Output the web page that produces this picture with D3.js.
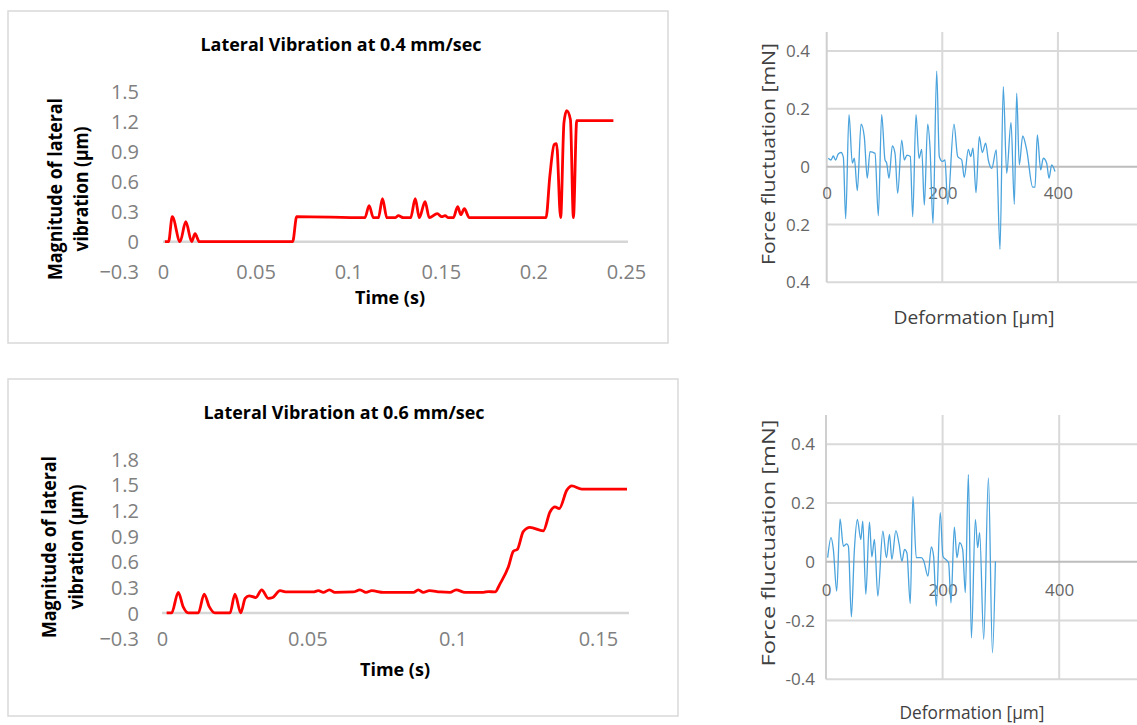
<!DOCTYPE html>
<html>
<head>
<meta charset="utf-8">
<script src="https://cdn.jsdelivr.net/npm/d3@7"></script>
<style>
  body { margin: 0; background: #fff; }
  svg { display: block; }
</style>
</head>
<body>
<svg id="chart" width="1137" height="725"></svg>
<script>
// ---- data ----
// lateral vibration, 0.4 mm/sec: [time (s), magnitude (µm)]
var slowVibration = [
  [0.001, 0], [0.003, 0], [0.005, 0.25], [0.0092, 0], [0.0123, 0.20], [0.0155, 0],
  [0.0173, 0.08], [0.0196, 0], [0.070, 0], [0.0722, 0.25], [0.109, 0.24],
  [0.1113, 0.36], [0.1136, 0.24], [0.1163, 0.24], [0.1185, 0.43], [0.1209, 0.24],
  [0.1253, 0.24], [0.1271, 0.26], [0.1298, 0.24], [0.1337, 0.24], [0.1362, 0.43],
  [0.1384, 0.24], [0.1415, 0.40], [0.1438, 0.24], [0.1481, 0.28], [0.1505, 0.25],
  [0.1523, 0.26], [0.1541, 0.24], [0.1568, 0.24], [0.1591, 0.35], [0.1608, 0.27],
  [0.1627, 0.33], [0.1654, 0.24], [0.2068, 0.24], [0.2089, 0.66], [0.2112, 0.97],
  [0.2125, 0.98], [0.2147, 0.24], [0.2165, 1.19], [0.2180, 1.31], [0.2200, 1.22],
  [0.2216, 0.24], [0.2234, 1.21], [0.2252, 1.21], [0.2432, 1.21]
];
// lateral vibration, 0.6 mm/sec
var fastVibration = [
  [0.0016, 0], [0.0033, 0], [0.0056, 0.24], [0.0073, 0.07], [0.009, 0], [0.0114, 0],
  [0.0125, 0], [0.0145, 0.22], [0.0163, 0.07], [0.0182, 0], [0.0223, 0], [0.0234, 0],
  [0.0251, 0.22], [0.0271, 0], [0.0286, 0.17], [0.030, 0.20], [0.0323, 0.18],
  [0.0343, 0.27], [0.0366, 0.17], [0.0381, 0.18], [0.0406, 0.26], [0.0429, 0.245],
  [0.052, 0.245], [0.0538, 0.26], [0.0555, 0.24], [0.0576, 0.27], [0.0595, 0.24],
  [0.0658, 0.245], [0.0681, 0.27], [0.0702, 0.24], [0.0722, 0.26], [0.0762, 0.24],
  [0.0865, 0.24], [0.0882, 0.27], [0.0899, 0.24], [0.092, 0.26], [0.0957, 0.245],
  [0.0991, 0.24], [0.1012, 0.27], [0.1043, 0.24], [0.1106, 0.24], [0.1123, 0.25],
  [0.1146, 0.245], [0.1163, 0.34], [0.1192, 0.54], [0.1209, 0.72], [0.1223, 0.745],
  [0.1243, 0.95], [0.1266, 1.0], [0.1312, 0.96], [0.1335, 1.18], [0.1352, 1.24],
  [0.1367, 1.22], [0.1393, 1.435], [0.141, 1.485], [0.1444, 1.447], [0.16, 1.447]
];
// force fluctuation, upper plot: [deformation (µm), force (mN)]
var forceUpper = [
  [2.8, 0.029], [7.4, 0.023], [11.4, 0.037], [15.4, 0.023], [20, 0.044], [24.8, 0.049],
  [28.8, 0.033], [32.8, -0.18], [38.6, 0.18], [44.3, 0.012], [47.8, 0.029], [53, -0.083],
  [59.4, 0.147], [65, 0.104], [70.2, -0.04], [74.9, 0.052], [83.6, 0.046], [89.3, -0.17],
  [95.1, 0.18], [100.9, 0.023], [103.8, 0.012], [107.8, -0.04], [113.6, 0.072],
  [118.2, 0.046], [122.8, -0.092], [129.8, 0.092], [134.3, 0.023], [138.9, 0.04],
  [144.6, 0.035], [148.8, -0.173], [154.5, 0.18], [159.7, 0.029], [164.4, 0.06],
  [168.9, -0.133], [174.7, 0.147], [178.7, 0.067], [183.9, -0.196], [190.3, 0.33],
  [194.8, 0.035], [200, 0.018], [204.7, 0.023], [209.3, -0.13], [220.2, 0.147],
  [226.6, 0.035], [233.6, 0.023], [238, -0.037], [245, 0.06], [249.1, 0.035],
  [253.1, 0.064], [258.3, -0.09], [264, 0.104], [269.2, 0.049], [275, 0.081],
  [279.6, 0.023], [285.5, -0.006], [293.4, 0.058], [299.8, -0.286], [305.5, 0.277],
  [311.4, -0.023], [318.9, 0.153], [324.6, -0.13], [328.7, 0.254], [333.2, 0.006],
  [339.1, 0.106], [346, 0.058], [356.4, -0.071], [360.4, -0.071], [364.4, 0.11],
  [370.2, -0.011], [374.7, 0.029], [380.6, 0.012], [384.6, -0.04], [389.3, 0.006],
  [395, -0.017]
];
// force fluctuation, lower plot
var forceLower = [
  [2.9, 0.014], [8.6, 0.082], [12.6, 0.042], [18.4, -0.1], [24.1, 0.146], [29.8, 0.053],
  [35.6, 0.061], [38.4, 0.053], [43.5, -0.187], [48.7, 0.042], [53.8, 0.144],
  [59.7, 0.076], [63.1, 0.138], [68.3, -0.111], [74.5, 0.135], [78.6, 0.017],
  [83.1, 0.076], [88.9, -0.117], [97.5, 0.104], [103.7, 0.014], [108.9, 0.093],
  [113, 0.008], [119.8, 0.106], [125.5, 0.059], [130.2, 0.002], [134.7, 0.042],
  [138.8, 0.03], [144.5, -0.142], [149.1, 0.223], [154.8, 0.014], [163.4, 0.014],
  [167.3, 0.005], [174.9, -0.049], [180.6, 0.051], [184.5, 0.02], [189.2, -0.151],
  [196, 0.167], [200.6, 0.019], [206.4, 0.006], [210.3, -0.003], [214.4, -0.14],
  [220.1, 0.118], [224.7, 0.014], [229.2, 0.065], [234.4, 0.042], [239, -0.105],
  [244.2, 0.297], [249.4, -0.259], [256.2, 0.144], [260.2, 0.048], [263.6, 0.099],
  [270.5, -0.264], [278.6, 0.286], [285.5, -0.31], [290.6, 0.002]
];

// ticks and labels
var slowTimeTicks = [0, 0.05, 0.1, 0.15, 0.2, 0.25];
var fastTimeTicks = [0, 0.05, 0.1, 0.15];
var slowAmpTicks = [-0.3, 0, 0.3, 0.6, 0.9, 1.2, 1.5];
var fastAmpTicks = [-0.3, 0, 0.3, 0.6, 0.9, 1.2, 1.5, 1.8];
var deformTicks = [0, 200, 400, 600];
var forceTicks = [0.4, 0.2, 0, -0.2, -0.4];
var forceUpperLabels = ["0.4", "0.2", "0", "0.2", "0.4"];
var forceLowerLabels = ["0.4", "0.2", "0", "-0.2", "-0.4"];

var svg = d3.select("#chart");

function drawVibration(data, opts) {
  var g = svg.append("g");
  // chart frame
  g.append("rect")
    .attr("x", opts.box[0]).attr("y", opts.box[1])
    .attr("width", opts.box[2]).attr("height", opts.box[3])
    .attr("fill", "#fff")
    .attr("stroke", "#d9d9d9")
    .attr("stroke-width", 1.5);

  var x = d3.scaleLinear().domain(opts.xDomain).range(opts.xRange);
  var y = d3.scaleLinear().domain(opts.yDomain).range(opts.yRange);

  g.append("text")
    .attr("x", opts.titlePos[0]).attr("y", opts.titlePos[1])
    .attr("text-anchor", "middle")
    .attr("textLength", opts.titleLen)
    .attr("lengthAdjust", "spacingAndGlyphs")
    .style("font", "bold 17px 'Open Sans', sans-serif")
    .text(opts.title);

  // y axis labels
  var yAxis = d3.axisLeft(y).tickValues(opts.yTicks).tickSize(0).tickPadding(0)
    .tickFormat(d3.format("~g"));
  var ya = g.append("g").attr("transform", "translate(" + opts.yLabelX + ",0)").call(yAxis);
  ya.select(".domain").remove();
  ya.selectAll("text")
    .attr("dy", "0.36em")
    .style("font", "20px 'Open Sans', sans-serif")
    .style("fill", "#808080");

  // x axis labels sit level with the lowest y label
  var xAxis = d3.axisBottom(x).tickValues(opts.xTicks).tickSize(0).tickPadding(0)
    .tickFormat(d3.format("~g"));
  var xa = g.append("g").attr("transform", "translate(0," + y(opts.yDomain[0]) + ")").call(xAxis);
  xa.select(".domain").remove();
  xa.selectAll("text")
    .attr("dy", "0.36em")
    .style("font", "20px 'Open Sans', sans-serif")
    .style("fill", "#808080");

  // zero baseline
  g.append("line")
    .attr("x1", x(0)).attr("x2", x(opts.xDomain[1]) + 2)
    .attr("y1", y(0)).attr("y2", y(0))
    .attr("stroke", "#d6d6d6")
    .attr("stroke-width", 2.5);

  var line = d3.line()
    .x(function(d) { return x(d[0]); })
    .y(function(d) { return y(d[1]); })
    .curve(d3.curveMonotoneX);
  g.append("path")
    .datum(data)
    .attr("d", line)
    .attr("fill", "none")
    .attr("stroke", "#ff0000")
    .attr("stroke-width", 2.8)
    .attr("stroke-linejoin", "round");

  g.append("text")
    .attr("x", opts.xTitlePos[0]).attr("y", opts.xTitlePos[1])
    .attr("text-anchor", "middle")
    .attr("textLength", 70)
    .attr("lengthAdjust", "spacingAndGlyphs")
    .style("font", "bold 18px 'Open Sans', sans-serif")
    .text("Time (s)");

  // two-line rotated y title
  var yt = g.append("g")
    .attr("transform", "translate(" + opts.yTitlePos[0] + "," + opts.yTitlePos[1] + ") rotate(-90)");
  yt.append("text")
    .attr("x", 0).attr("y", 0)
    .attr("text-anchor", "middle")
    .attr("textLength", opts.yTitleLens[0])
    .attr("lengthAdjust", "spacingAndGlyphs")
    .style("font", "bold 19px 'Open Sans', sans-serif")
    .text("Magnitude of lateral");
  yt.append("text")
    .attr("x", 0).attr("y", opts.yTitleGap)
    .attr("text-anchor", "middle")
    .attr("textLength", opts.yTitleLens[1])
    .attr("lengthAdjust", "spacingAndGlyphs")
    .style("font", "bold 19px 'Open Sans', sans-serif")
    .text("vibration (µm)");
}

function drawForce(data, opts) {
  var g = svg.append("g");
  var x = d3.scaleLinear().domain([0, 600]).range(opts.xRange);
  var y = d3.scaleLinear().domain([-0.4, 0.4]).range(opts.yRange);
  var right = 1137;

  // gridlines
  g.selectAll(".hgrid")
    .data(forceTicks.filter(function(d) { return d !== 0; }))
    .enter().append("line")
    .attr("x1", x(0)).attr("x2", right)
    .attr("y1", function(d) { return y(d); })
    .attr("y2", function(d) { return y(d); })
    .attr("stroke", "#d9d9d9")
    .attr("stroke-width", 2);
  g.selectAll(".vgrid")
    .data(deformTicks.filter(function(d) { return d !== 0; }))
    .enter().append("line")
    .attr("x1", function(d) { return x(d); })
    .attr("x2", function(d) { return x(d); })
    .attr("y1", opts.top).attr("y2", y(-0.4))
    .attr("stroke", "#d9d9d9")
    .attr("stroke-width", 2);
  g.append("line")
    .attr("x1", x(0)).attr("x2", x(0))
    .attr("y1", opts.top).attr("y2", y(-0.4))
    .attr("stroke", "#cfcfcf")
    .attr("stroke-width", 2);
  g.append("line")
    .attr("x1", x(0)).attr("x2", right)
    .attr("y1", y(0)).attr("y2", y(0))
    .attr("stroke", "#bdbdbd")
    .attr("stroke-width", 2);

  // y labels
  g.selectAll(".ylab")
    .data(forceTicks)
    .enter().append("text")
    .attr("x", opts.yLabelX)
    .attr("y", function(d) { return y(d); })
    .attr("dy", "0.36em")
    .attr("text-anchor", "end")
    .style("font", "17px 'Open Sans', sans-serif")
    .style("fill", "#666")
    .text(function(d, i) { return opts.labels[i]; });

  // x labels drawn under the trace, like the original
  var xAxis = d3.axisBottom(x).tickValues(deformTicks.slice(0, 3)).tickSize(0).tickPadding(0);
  var xa = g.append("g").attr("transform", "translate(0," + opts.xLabelY + ")").call(xAxis);
  xa.select(".domain").remove();
  xa.selectAll("text")
    .attr("dy", "0.36em")
    .style("font", "17px 'Open Sans', sans-serif")
    .style("fill", "#666");

  var line = d3.line()
    .x(function(d) { return x(d[0]); })
    .y(function(d) { return y(d[1]); })
    .curve(d3.curveMonotoneX);
  g.append("path")
    .datum(data)
    .attr("d", line)
    .attr("fill", "none")
    .attr("stroke", "#4aa3dd")
    .attr("stroke-width", 1.3)
    .attr("stroke-linejoin", "round");

  g.append("text")
    .attr("transform", "translate(" + opts.yTitlePos[0] + "," + opts.yTitlePos[1] + ") rotate(-90)")
    .attr("text-anchor", "middle")
    .attr("dy", "0.36em")
    .attr("textLength", opts.yTitleLen)
    .attr("lengthAdjust", "spacingAndGlyphs")
    .style("font", "19px 'Open Sans', sans-serif")
    .style("fill", "#404040")
    .text("Force fluctuation [mN]");
  g.append("text")
    .attr("x", opts.xTitlePos[0]).attr("y", opts.xTitlePos[1])
    .attr("dy", "0.36em")
    .attr("text-anchor", "middle")
    .attr("textLength", opts.xTitleLen)
    .attr("lengthAdjust", "spacingAndGlyphs")
    .style("font", "19px 'Open Sans', sans-serif")
    .style("fill", "#404040")
    .text("Deformation [µm]");
}

drawVibration(slowVibration, {
  box: [8, 11, 660, 332],
  title: "Lateral Vibration at 0.4 mm/sec",
  titlePos: [341, 51], titleLen: 281,
  xDomain: [0, 0.25], xRange: [163, 626],
  yDomain: [-0.3, 1.5], yRange: [271.7, 91.7],
  xTicks: slowTimeTicks, yTicks: slowAmpTicks,
  yLabelX: 139,
  xTitlePos: [390, 304],
  yTitlePos: [62, 189], yTitleGap: 26, yTitleLens: [182, 125]
});

drawVibration(fastVibration, {
  box: [8, 379, 670, 337],
  title: "Lateral Vibration at 0.6 mm/sec",
  titlePos: [344, 419], titleLen: 281,
  xDomain: [0, 0.16], xRange: [162, 627],
  yDomain: [-0.3, 1.8], yRange: [638.6, 458.9],
  xTicks: fastTimeTicks, yTicks: fastAmpTicks,
  yLabelX: 139,
  xTitlePos: [395, 676],
  yTitlePos: [56, 547], yTitleGap: 27, yTitleLens: [182, 125]
});

drawForce(forceUpper, {
  xRange: [826.7, 826.7 + 3 * 115.6],
  yRange: [282.3, 51],
  top: 32,
  labels: forceUpperLabels,
  yLabelX: 810,
  xLabelY: 193,
  yTitlePos: [768, 154], yTitleLen: 222,
  xTitlePos: [974, 317], xTitleLen: 161
});

drawForce(forceLower, {
  xRange: [826, 826 + 3 * 116.6],
  yRange: [679.3, 444.3],
  top: 415,
  labels: forceLowerLabels,
  yLabelX: 815,
  xLabelY: 590,
  yTitlePos: [768, 543], yTitleLen: 247,
  xTitlePos: [972, 712], xTitleLen: 145
});
</script>
</body>
</html>
